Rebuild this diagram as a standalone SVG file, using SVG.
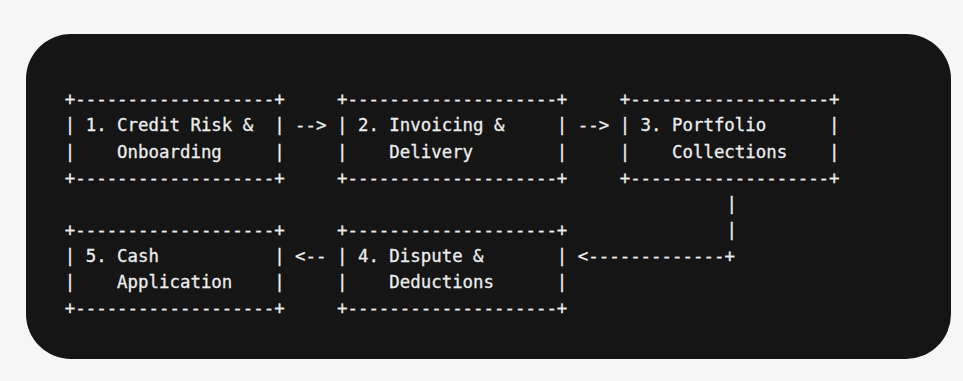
<svg xmlns="http://www.w3.org/2000/svg" width="963" height="381" viewBox="0 0 963 381" xml:space="preserve">
<style>
  text { font-family: "DejaVu Sans Mono", "Liberation Mono", monospace; font-size: 17.4px; fill: #ececec; stroke: #ececec; stroke-width: 0.3px; white-space: pre; }
</style>
<rect x="0" y="0" width="963" height="381" fill="#f6f6f6"/>
<rect x="26" y="34" width="925" height="325" rx="45" ry="45" fill="#151515"/>
<g id="node-1">
  <text x="64.77" y="105.3">+-------------------+</text>
  <text x="64.77" y="131.4">| 1. Credit Risk &amp;  |</text>
  <text x="64.77" y="157.5">|    Onboarding     |</text>
  <text x="64.77" y="183.6">+-------------------+</text>
</g>
<g id="node-2">
  <text x="336.99" y="105.3">+--------------------+</text>
  <text x="336.99" y="131.4">| 2. Invoicing &amp;     |</text>
  <text x="336.99" y="157.5">|    Delivery        |</text>
  <text x="336.99" y="183.6">+--------------------+</text>
</g>
<g id="node-3">
  <text x="619.68" y="105.3">+-------------------+</text>
  <text x="619.68" y="131.4">| 3. Portfolio      |</text>
  <text x="619.68" y="157.5">|    Collections    |</text>
  <text x="619.68" y="183.6">+-------------------+</text>
</g>
<g id="node-4">
  <text x="336.99" y="235.8">+--------------------+</text>
  <text x="336.99" y="261.9">| 4. Dispute &amp;       |</text>
  <text x="336.99" y="288.0">|    Deductions      |</text>
  <text x="336.99" y="314.1">+--------------------+</text>
</g>
<g id="node-5">
  <text x="64.77" y="235.8">+-------------------+</text>
  <text x="64.77" y="261.9">| 5. Cash           |</text>
  <text x="64.77" y="288.0">|    Application    |</text>
  <text x="64.77" y="314.1">+-------------------+</text>
</g>
<g id="connectors">
  <text x="295.11" y="131.4">--&gt;</text>
  <text x="577.80" y="131.4">--&gt;</text>
  <text x="726.38" y="209.7">|</text>
  <text x="726.38" y="235.8">|</text>
  <text x="577.80" y="261.9">&lt;-------------+</text>
  <text x="295.11" y="261.9">&lt;--</text>
</g>
</svg>
